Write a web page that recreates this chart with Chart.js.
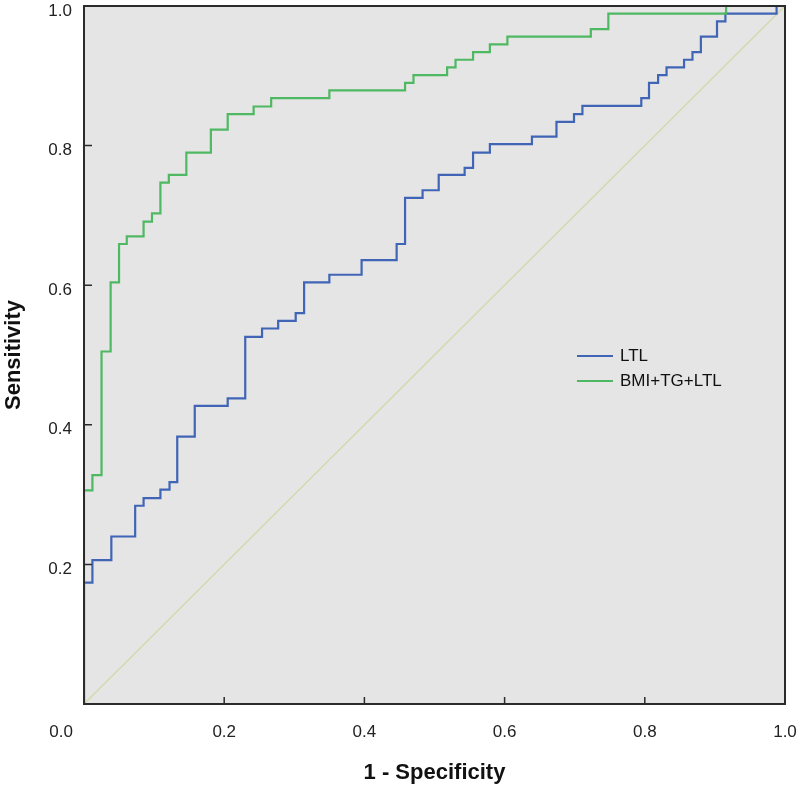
<!DOCTYPE html>
<html>
<head>
<meta charset="utf-8">
<title>ROC curves</title>
<script src="https://cdn.jsdelivr.net/npm/chart.js@4.4.1/dist/chart.umd.min.js"></script>
<style>
  html, body { margin: 0; padding: 0; background: #fff; }
  #wrap { position: relative; width: 800px; height: 791px; }
  #roc-legend { position: absolute; left: 577px; top: 343px; font: 17px "Liberation Sans", Arial, sans-serif; color: #111; }
  #roc-legend .item { display: flex; align-items: center; height: 25px; }
  #roc-legend .swatch { width: 36px; height: 2px; margin-right: 7px; }
</style>
</head>
<body>
<div id="wrap">
  <canvas id="chart-roc" width="800" height="791"></canvas>
  <div id="roc-legend"></div>
</div>
<script>
(function () {
  'use strict';

  // ROC points (1 - specificity, sensitivity)
  const LTL_FPR = [0, 0, 0.012, 0.039, 0.073, 0.085, 0.109, 0.122, 0.133, 0.158, 0.205, 0.230, 0.254, 0.277, 0.302, 0.314, 0.350, 0.396, 0.446, 0.458, 0.483, 0.506, 0.543, 0.555, 0.579, 0.639, 0.674, 0.699, 0.711, 0.795, 0.806, 0.819, 0.831, 0.856, 0.868, 0.880, 0.903, 0.915, 0.988, 1];
  const LTL_TPR = [0, 0.097, 0.174, 0.206, 0.240, 0.284, 0.295, 0.307, 0.318, 0.383, 0.427, 0.438, 0.526, 0.538, 0.549, 0.560, 0.604, 0.615, 0.636, 0.659, 0.725, 0.736, 0.758, 0.768, 0.790, 0.802, 0.813, 0.834, 0.845, 0.857, 0.868, 0.890, 0.901, 0.912, 0.923, 0.934, 0.956, 0.978, 0.989, 1.0];
  const COMBO_FPR = [0, 0, 0.012, 0.025, 0.038, 0.050, 0.061, 0.085, 0.097, 0.109, 0.121, 0.146, 0.181, 0.205, 0.242, 0.267, 0.350, 0.458, 0.470, 0.518, 0.530, 0.555, 0.579, 0.604, 0.723, 0.748, 0.916, 0.952, 1];
  const COMBO_TPR = [0, 0.206, 0.306, 0.328, 0.505, 0.604, 0.659, 0.670, 0.691, 0.703, 0.747, 0.758, 0.790, 0.823, 0.845, 0.856, 0.868, 0.879, 0.890, 0.901, 0.912, 0.923, 0.934, 0.945, 0.956, 0.967, 0.989, 1.0, 1.0];
  const REF_LINE = [0, 1];
  const SERIES_LABELS = ['LTL', 'BMI+TG+LTL'];
  const SERIES_COLORS = ['#4065b6', '#4fb862'];
  const AXIS_TICKS = [0, 0.2, 0.4, 0.6, 0.8, 1];

  function toPoints(xs, ys) {
    return xs.map(function (x, i) { return { x: x, y: ys[i] }; });
  }

  const FONT = '"Liberation Sans", Arial, Helvetica, sans-serif';
  const TICK_FONT = { family: FONT, size: 17 };

  // grey plot area, frame, inward tick marks and the shared origin label
  var plotFrame = {
    id: 'plotFrame',
    beforeDatasetsDraw: function (chart) {
      var a = chart.chartArea, ctx = chart.ctx;
      ctx.save();
      ctx.fillStyle = '#e5e5e5';
      ctx.fillRect(a.left, a.top, a.right - a.left, a.bottom - a.top);
      ctx.restore();
    },
    afterDatasetsDraw: function (chart) {
      var a = chart.chartArea, ctx = chart.ctx;
      var xs = chart.scales.x, ys = chart.scales.y;
      ctx.save();
      ctx.strokeStyle = '#2b2b2b';
      ctx.lineWidth = 1.5;
      ctx.beginPath();
      AXIS_TICKS.forEach(function (v) {
        if (v === 0 || v === 1) return;
        var px = xs.getPixelForValue(v);
        ctx.moveTo(px, a.bottom);
        ctx.lineTo(px, a.bottom - 7);
        var py = ys.getPixelForValue(v);
        ctx.moveTo(a.left, py);
        ctx.lineTo(a.left + 8, py);
      });
      ctx.stroke();
      ctx.lineWidth = 2;
      ctx.strokeRect(a.left, a.top, a.right - a.left, a.bottom - a.top);

      // "0.0" sits left of the corner, in line with the x labels
      ctx.fillStyle = '#222';
      ctx.font = TICK_FONT.size + 'px ' + FONT;
      ctx.textAlign = 'right';
      ctx.textBaseline = 'middle';
      ctx.fillText(AXIS_TICKS[0].toFixed(1), xs.getPixelForValue(0) - 11, a.bottom + 28);
      ctx.restore();
    }
  };

  var ctx = document.getElementById('chart-roc');
  var chart = new Chart(ctx, {
    type: 'line',
    data: {
      datasets: [{
        label: '',
        data: toPoints(REF_LINE, REF_LINE),
        borderColor: '#d4d9ad',
        borderWidth: 1.5,
        pointRadius: 0,
        order: 3
      }, {
        label: SERIES_LABELS[0],
        data: toPoints(LTL_FPR, LTL_TPR),
        borderColor: SERIES_COLORS[0],
        borderWidth: 2.2,
        stepped: 'after',
        pointRadius: 0,
        order: 2
      }, {
        label: SERIES_LABELS[1],
        data: toPoints(COMBO_FPR, COMBO_TPR),
        borderColor: SERIES_COLORS[1],
        borderWidth: 2.2,
        stepped: 'after',
        pointRadius: 0,
        order: 1
      }]
    },
    options: {
      responsive: false,
      animation: false,
      layout: { padding: { top: 6, right: 15, left: 0, bottom: 0 } },
      plugins: {
        legend: { display: false },
        tooltip: { enabled: false }
      },
      scales: {
        x: {
          type: 'linear',
          min: 0,
          max: 1,
          afterFit: function (s) {
            s.height = 87;
            s.paddingLeft = 0; s.paddingRight = 0;
          },
          afterBuildTicks: function (s) { s.ticks = AXIS_TICKS.map(function (v) { return { value: v }; }); },
          grid: { display: false, drawTicks: false },
          border: { display: false },
          ticks: {
            padding: 18,
            color: '#222',
            font: TICK_FONT,
            maxRotation: 0,
            callback: function (v) { return v === 0 ? '' : v.toFixed(1); }
          },
          title: {
            display: true,
            text: '1 - Specificity',
            color: '#111',
            font: { family: FONT, size: 22, weight: 'bold' },
            padding: { top: 0, bottom: 5 }
          }
        },
        y: {
          type: 'linear',
          min: 0,
          max: 1,
          afterFit: function (s) {
            s.width = 84;
            s.paddingTop = 0; s.paddingBottom = 0;
          },
          afterBuildTicks: function (s) { s.ticks = AXIS_TICKS.map(function (v) { return { value: v }; }); },
          grid: { display: false, drawTicks: false },
          border: { display: false },
          ticks: {
            padding: 12,
            labelOffset: 5,
            color: '#222',
            font: TICK_FONT,
            callback: function (v) { return v === 0 ? '' : v.toFixed(1); }
          },
          title: {
            display: true,
            text: 'Sensitivity',
            color: '#111',
            font: { family: FONT, size: 22, weight: 'bold' },
            padding: { top: 1, bottom: 0 }
          }
        }
      }
    },
    plugins: [plotFrame]
  });

  // legend inside the plot area
  var legendEl = document.getElementById('roc-legend');
  chart.data.datasets.forEach(function (ds) {
    if (!ds.label) return;
    var item = document.createElement('div');
    item.className = 'item';
    var sw = document.createElement('span');
    sw.className = 'swatch';
    sw.style.background = ds.borderColor;
    var txt = document.createElement('span');
    txt.textContent = ds.label;
    item.appendChild(sw);
    item.appendChild(txt);
    legendEl.appendChild(item);
  });
})();
</script>
</body>
</html>
